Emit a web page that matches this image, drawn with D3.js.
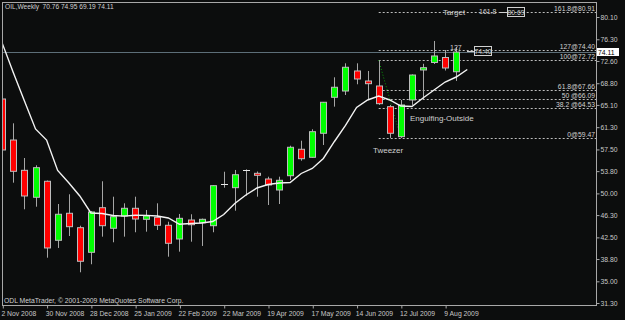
<!DOCTYPE html>
<html>
<head>
<meta charset="utf-8">
<script src="https://cdn.jsdelivr.net/npm/d3@7"></script>
<style>
  body { margin: 0; background: #0c0d0d; }
  svg { display: block; }
  text { font-family: "Liberation Sans", Arial, sans-serif; }
</style>
</head>
<body>
<script>
// OIL weekly candles, 2 Nov 2008 .. 16 Aug 2009

const opens  = [66.11, 59.11, 53.94, 49.34, 52.07, 42.00, 46.61, 44.15, 39.95, 47.56,
                44.05, 46.15, 47.46, 45.58, 45.92, 44.56, 42.22, 45.46, 45.00, 44.49,
                51.66, 50.98, 54.00, 53.43, 52.46, 50.58, 53.02, 57.53, 56.16, 60.26,
                66.40, 67.47, 70.89, 69.18, 68.33, 64.80, 59.68, 65.94, 71.06, 72.34,
                73.19, 70.76];
const highs  = [67.65, 61.96, 56.04, 54.80, 52.20, 48.19, 49.85, 44.49, 47.00, 52.07,
                49.44, 48.31, 49.44, 47.17, 48.31, 45.17, 46.49, 46.44, 45.70, 51.40,
                53.70, 54.00, 54.10, 53.74, 52.85, 52.85, 58.14, 58.99, 60.94, 65.60,
                69.81, 72.20, 72.20, 70.89, 72.72, 65.09, 65.94, 70.30, 72.12, 76.01,
                74.47, 74.95];
const lows   = [56.21, 51.83, 47.29, 47.73, 39.03, 40.69, 42.73, 36.54, 37.91, 42.62,
                41.66, 42.62, 43.37, 43.47, 43.76, 39.20, 40.06, 41.76, 41.03, 43.37,
                50.98, 47.05, 49.61, 49.44, 48.02, 48.19, 52.29, 55.58, 56.10, 58.26,
                64.80, 66.79, 68.62, 66.06, 65.10, 59.47, 59.47, 65.10, 66.06, 72.08,
                70.97, 69.19];
const closes = [57.41, 53.77, 49.56, 54.39, 40.69, 46.44, 44.32, 38.42, 46.83, 44.49,
                46.03, 47.46, 45.63, 46.15, 44.56, 41.49, 45.75, 44.66, 45.58, 51.32,
                51.66, 53.19, 54.00, 53.19, 51.44, 52.24, 57.87, 55.92, 60.53, 65.55,
                68.11, 71.52, 69.52, 68.72, 65.31, 60.26, 65.09, 70.20, 71.45, 73.45,
                71.40, 74.11];

// moving average, drawn one bar forward
const maValues = [75.60, 70.58, 65.77, 61.00, 59.11, 53.91, 51.83, 49.56, 46.66, 46.57,
                  46.23, 46.12, 46.28, 46.25, 46.15, 45.81, 44.73, 44.87, 44.96, 45.21,
                  46.40, 48.28, 49.73, 50.92, 51.52, 51.78, 51.86, 53.40, 54.25, 55.96,
                  58.86, 61.59, 64.66, 65.94, 66.62, 65.94, 64.91, 64.83, 66.28, 67.65,
                  69.01, 69.86, 71.14];

const yTicks = [80.10, 76.30, 72.60, 68.80, 65.10, 61.30, 57.50, 53.80, 50.00, 46.30,
                42.50, 38.80, 35.00, 31.30];
const xTickIdx = [0, 4, 8, 12, 16, 20, 24, 28, 32, 36, 40];
const xTickLabels = ["2 Nov 2008", "30 Nov 2008", "28 Dec 2008", "25 Jan 2009", "22 Feb 2009",
                     "22 Mar 2009", "19 Apr 2009", "17 May 2009", "14 Jun 2009", "12 Jul 2009",
                     "9 Aug 2009"];

const fibPrices = [80.91, 74.40, 72.72, 67.66, 66.09, 64.53, 59.47];
const fibLabels = ["161.8@80.91", "127@74.40", "100@72.72", "61.8@67.66", "50 @66.09", "38.2 @64.53", "0@59.47"];

const lastPrice = 74.11;

const W = 625, H = 320;
const pL = 2, pR = 596, pT = 2, pB = 305;

const svg = d3.select("body").append("svg")
  .attr("width", W)
  .attr("height", H);

svg.append("rect").attr("width", W).attr("height", H).attr("fill", "#0c0d0d");

svg.append("defs").append("clipPath").attr("id", "plot")
  .append("rect")
  .attr("x", pL + 0.5).attr("y", pT)
  .attr("width", pR - pL - 0.5).attr("height", pB - pT);

var x = d3.scaleLinear().domain([0, 41]).range([2.3, 456.2]);
var y = d3.scaleLinear().domain([31.3, 80.1]).range([303, 17]);

var plot = svg.append("g").attr("clip-path", "url(#plot)");

// bid line
plot.append("line")
  .attr("x1", pL).attr("x2", pR)
  .attr("y1", Math.round(y(lastPrice)) + 0.5).attr("y2", Math.round(y(lastPrice)) + 0.5)
  .attr("stroke", "#5d6e78").attr("stroke-width", 1);

// fibo levels
const fibStart = x(34);
plot.selectAll(".fib")
  .data(fibPrices)
  .enter().append("line")
  .attr("class", "fib")
  .attr("x1", fibStart).attr("x2", pR)
  .attr("y1", d => Math.round(y(d)) + 0.5)
  .attr("y2", d => Math.round(y(d)) + 0.5)
  .attr("stroke", "#bdbdbd")
  .attr("stroke-dasharray", "2,2");

plot.selectAll(".fibText")
  .data(fibPrices)
  .enter().append("text")
  .attr("class", "fibText")
  .attr("x", pR - 1)
  .attr("y", d => Math.round(y(d)) - 1.5)
  .attr("text-anchor", "end")
  .attr("fill", "#d0d0d0")
  .attr("font-size", "6.8px")
  .text((d, i) => fibLabels[i]);

// fibo base line (high of bar 34 to low of bar 36)
plot.append("line")
  .attr("x1", x(34)).attr("y1", y(highs[34]))
  .attr("x2", x(36)).attr("y2", y(lows[36]))
  .attr("stroke", "#0a9a0a")
  .attr("stroke-dasharray", "1,2");

// candles
const bars = d3.range(opens.length);
const bw = 7;

plot.selectAll(".wick")
  .data(bars)
  .enter().append("line")
  .attr("class", "wick")
  .attr("x1", i => Math.round(x(i)) + 0.5)
  .attr("x2", i => Math.round(x(i)) + 0.5)
  .attr("y1", i => y(highs[i]))
  .attr("y2", i => y(lows[i]))
  .attr("stroke", "#a6a6a6");

plot.selectAll(".body")
  .data(bars.filter(i => opens[i] !== closes[i]))
  .enter().append("rect")
  .attr("class", "body")
  .attr("x", i => Math.round(x(i)) - 3 + 0.5)
  .attr("width", bw - 1)
  .attr("y", i => y(Math.max(opens[i], closes[i])))
  .attr("height", i => Math.max(2, Math.abs(y(opens[i]) - y(closes[i]))))
  .attr("fill", i => closes[i] > opens[i] ? "#00ff00" : "#ff0000")
  .attr("stroke", "#bdbdbd");

// doji crosses
plot.selectAll(".doji")
  .data(bars.filter(i => opens[i] === closes[i]))
  .enter().append("line")
  .attr("class", "doji")
  .attr("x1", i => Math.round(x(i)) - 3)
  .attr("x2", i => Math.round(x(i)) + 4)
  .attr("y1", i => Math.round(y(opens[i])) + 0.5)
  .attr("y2", i => Math.round(y(opens[i])) + 0.5)
  .attr("stroke", "#e8e8e8");

// moving average
var maLine = d3.line()
  .x((d, i) => x(i))
  .y(d => y(d));

plot.append("path")
  .datum(maValues)
  .attr("d", maLine)
  .attr("fill", "none")
  .attr("stroke", "#f2f2f2")
  .attr("stroke-width", 1.4);

// pattern labels
plot.append("text").attr("x", 410).attr("y", 121)
  .attr("fill", "#cfcfcf").attr("font-size", "8px").text("Engulfing-Outside");
plot.append("text").attr("x", 373).attr("y", 153)
  .attr("fill", "#cfcfcf").attr("font-size", "8px").text("Tweezer");

// target / 127 markers
plot.append("text").attr("x", 443).attr("y", 15)
  .attr("fill", "#d0d0d0").attr("font-size", "8px").text("Target");
plot.append("text").attr("x", 479).attr("y", 14)
  .attr("fill", "#d0d0d0").attr("font-size", "7px").text("161.8");
plot.append("text").attr("x", 450).attr("y", 50)
  .attr("fill", "#d0d0d0").attr("font-size", "7px").text("127");

const boxes = [{t: "80.69", x: 507, y: 7, lx: 500}, {t: "74.40", x: 474, y: 46, lx: 467}];
boxes.forEach(b => {
  plot.append("line").attr("x1", b.lx).attr("x2", b.x)
    .attr("y1", b.y + 5.5).attr("y2", b.y + 5.5).attr("stroke", "#d0d0d0");
  plot.append("rect").attr("x", b.x + 0.5).attr("y", b.y + 0.5)
    .attr("width", 17).attr("height", 9)
    .attr("fill", "none").attr("stroke", "#d0d0d0");
  plot.append("text").attr("x", b.x + 9).attr("y", b.y + 7.5)
    .attr("text-anchor", "middle").attr("fill", "#d0d0d0")
    .attr("font-size", "6.8px").text(b.t);
});

// frame
svg.append("rect")
  .attr("x", pL + 0.5).attr("y", pT + 0.5)
  .attr("width", pR - pL).attr("height", pB - pT)
  .attr("fill", "none").attr("stroke", "#a8a8a8");

// y axis on the right
var yAxis = d3.axisRight(y)
  .tickValues(yTicks)
  .tickSize(3)
  .tickPadding(1)
  .tickFormat(d3.format(".2f"));

var gy = svg.append("g")
  .attr("transform", "translate(" + (pR + 0.5) + ",0)")
  .call(yAxis);
gy.select(".domain").remove();
gy.selectAll("line").attr("stroke", "#a8a8a8");
gy.selectAll("text").attr("fill", "#c8c8c8").attr("font-size", "6.8px")
  .attr("font-family", "Liberation Sans, Arial, sans-serif");

// last price box
svg.append("rect").attr("x", 597).attr("y", Math.round(y(lastPrice)) - 4)
  .attr("width", 22).attr("height", 8).attr("fill", "#ffffff");
svg.append("text").attr("x", 598).attr("y", Math.round(y(lastPrice)) + 2.5)
  .attr("fill", "#000000").attr("font-size", "6.8px").text(lastPrice.toFixed(2));

// x axis
var xAxis = d3.axisBottom(x)
  .tickValues(xTickIdx)
  .tickSize(3)
  .tickPadding(3)
  .tickFormat((d, i) => xTickLabels[i]);

var gx = svg.append("g")
  .attr("transform", "translate(0," + (pB + 0.5) + ")")
  .call(xAxis);
gx.select(".domain").remove();
gx.selectAll("line").attr("stroke", "#a8a8a8").attr("transform", "translate(0.5,0)");
gx.selectAll("text").attr("fill", "#c8c8c8").attr("font-size", "6.8px")
  .attr("text-anchor", "start").attr("dx", "-0.2em")
  .attr("font-family", "Liberation Sans, Arial, sans-serif");

// title and copyright
svg.append("text").attr("x", 5).attr("y", 9)
  .attr("fill", "#d0d0d0").attr("font-size", "6.6px")
  .attr("xml:space", "preserve")
  .text("OIL,Weekly  " + [70.76, 74.95, 69.19, 74.11].map(d => d.toFixed(2)).join(" "));

svg.append("text").attr("x", 4).attr("y", 303)
  .attr("fill", "#d0d0d0").attr("font-size", "6.8px")
  .text("ODL MetaTrader, \u00a9 2001-2009 MetaQuotes Software Corp.");
</script>
</body>
</html>
